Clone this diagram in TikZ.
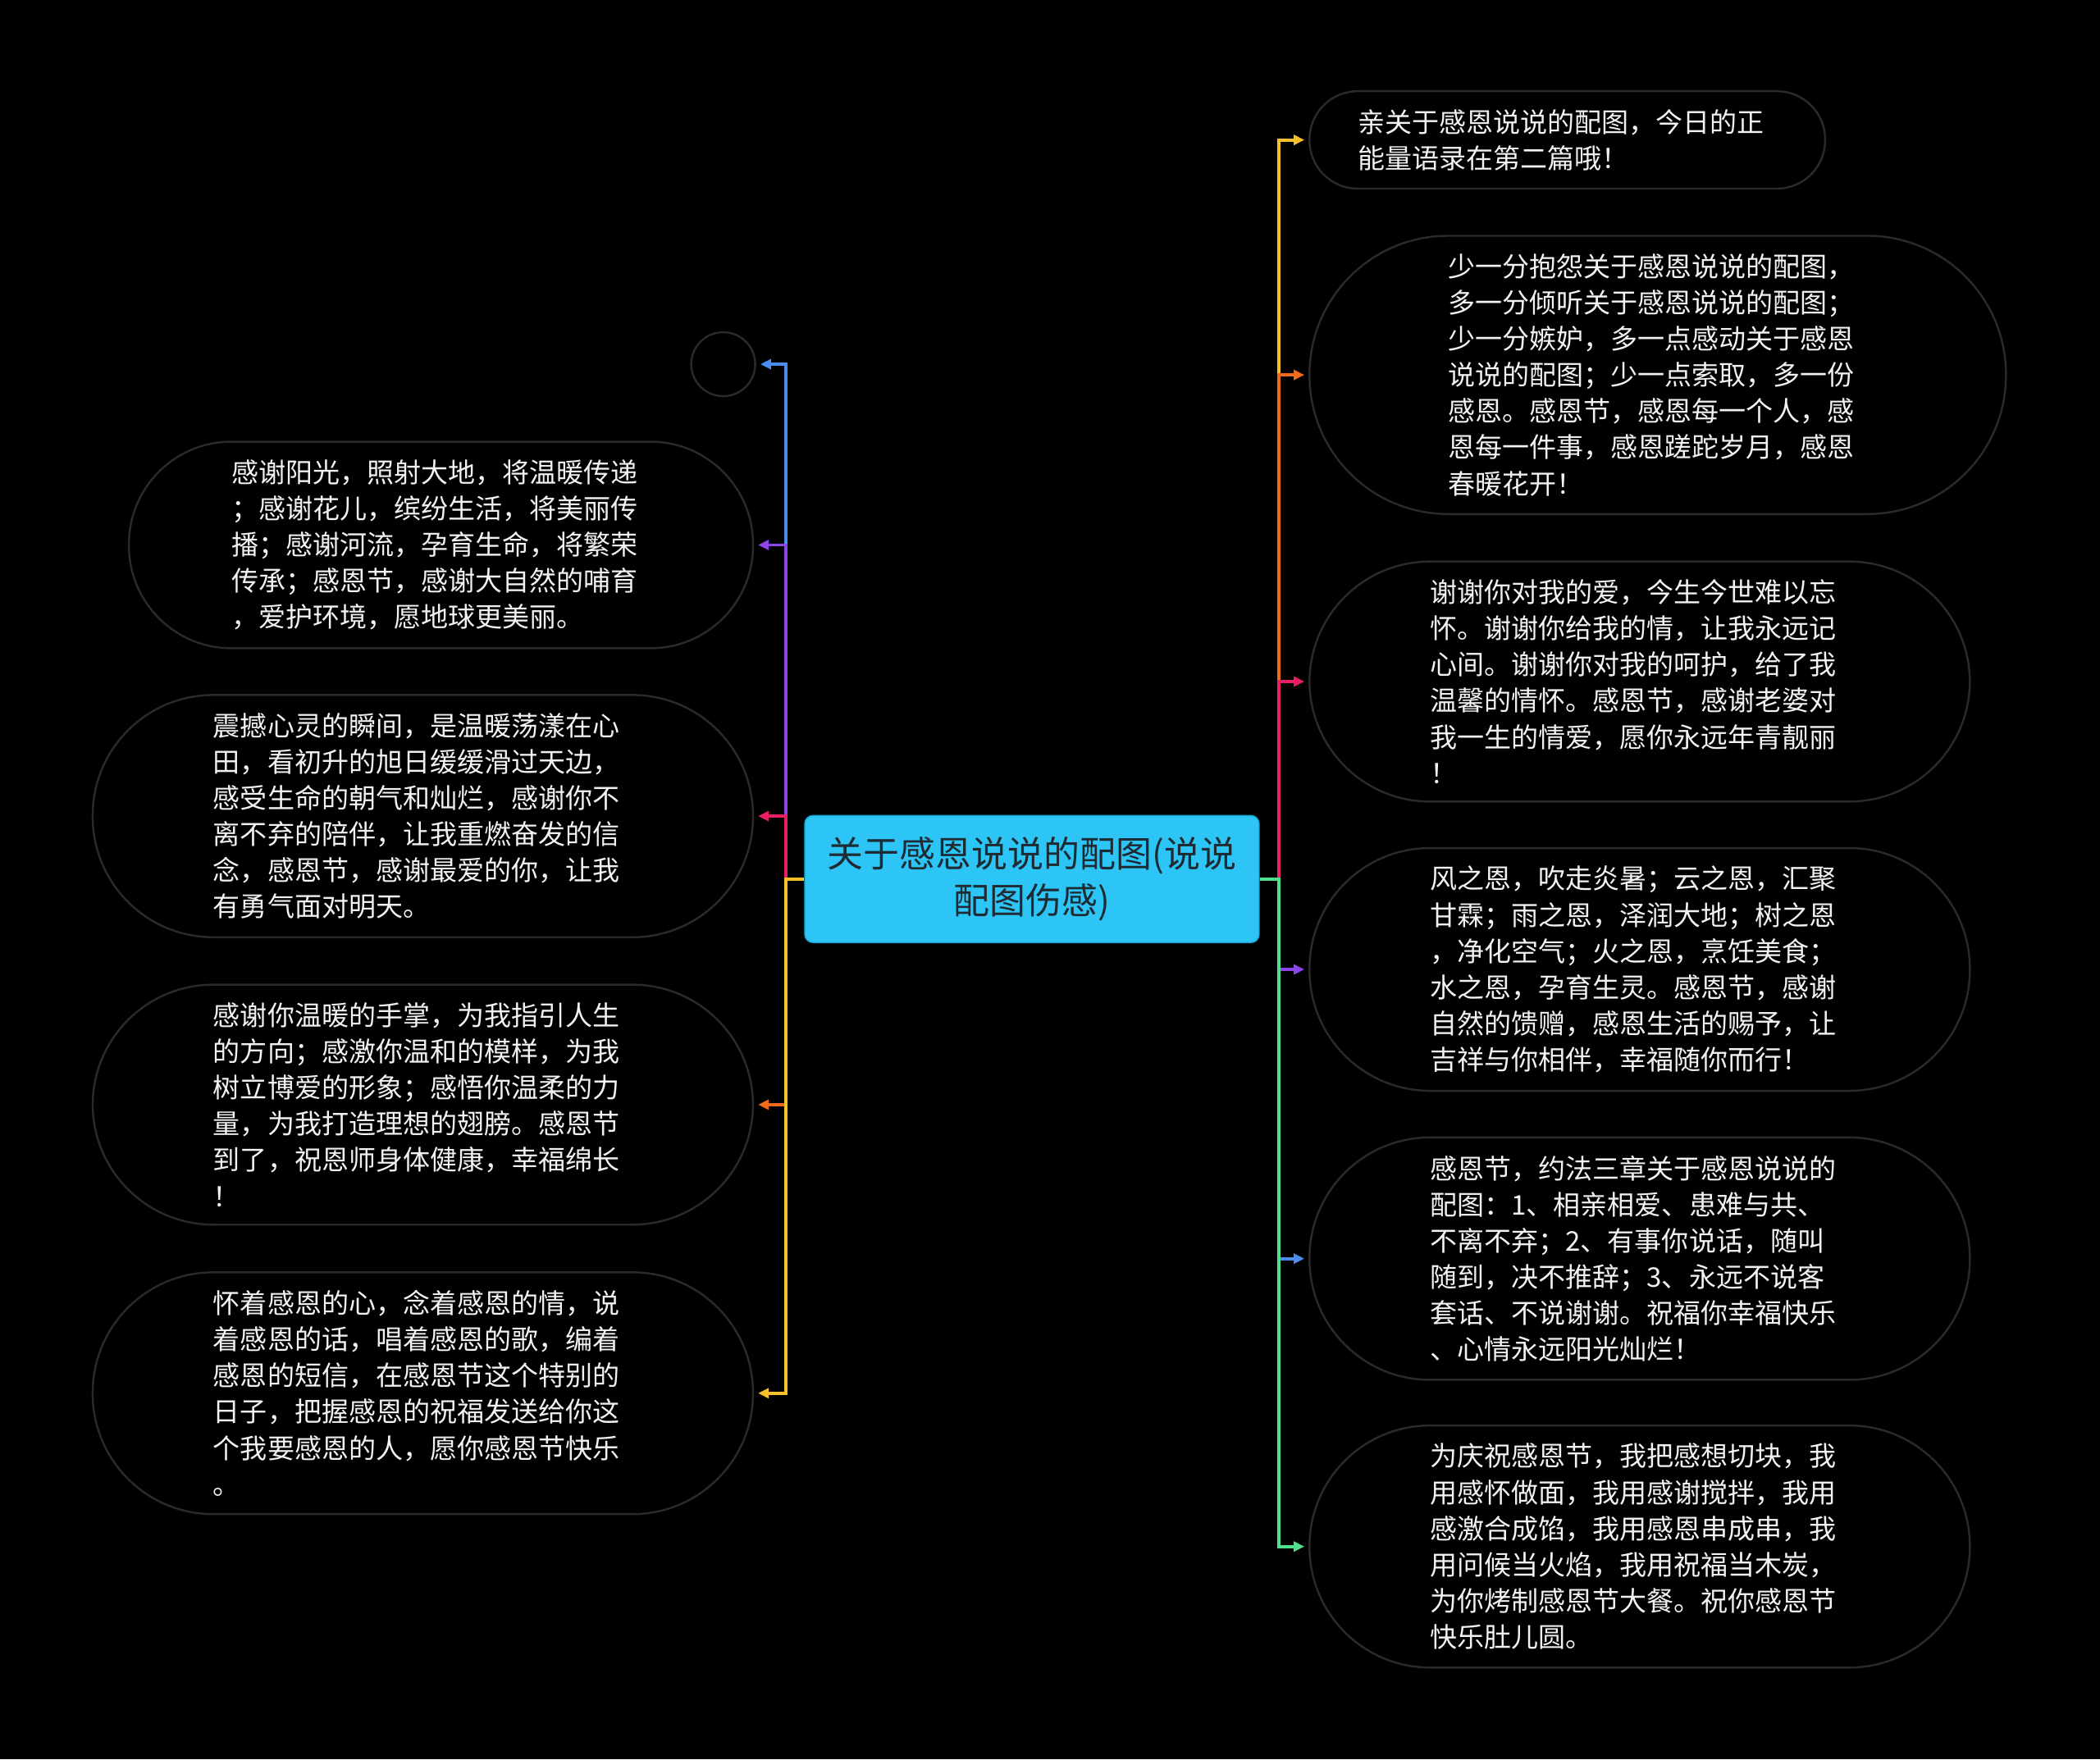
\documentclass[tikz,border=0pt]{standalone}
\usepackage{fontspec}
\setmainfont{Noto Sans CJK SC}
\usepackage{tikz}
\usetikzlibrary{arrows.meta, positioning}

\definecolor{bubble}{HTML}{2A2A2A}
\definecolor{leaftext}{HTML}{F2F2F2}
\definecolor{rootfill}{HTML}{2CC5F6}
\definecolor{rootline}{HTML}{1B9FCB}
\definecolor{roottext}{HTML}{1E2B33}
\definecolor{cyellow}{HTML}{F5C02A}
\definecolor{corange}{HTML}{F26B1D}
\definecolor{cpink}{HTML}{E91E63}
\definecolor{cpurple}{HTML}{8E44E8}
\definecolor{cblue}{HTML}{4A8CF0}
\definecolor{cgreen}{HTML}{4EE08A}

\begin{document}
\begin{tikzpicture}[
    x=0.01633cm, y=-0.01633cm,
    root/.style={draw=rootline, fill=rootfill, rounded corners=0.1cm, minimum width=5.54cm, minimum height=1.55cm, align=center, text=roottext, font=\fontsize{12.5}{16.3}\selectfont},
    leaf/.style={draw=bubble, line width=0.7pt, rectangle, rounded corners=#1, text width=5.11cm, inner xsep=#1, inner ysep=0.22cm, align=left, text=leaftext, font=\fontsize{9.4}{12.55}\selectfont},
    dot/.style={draw=bubble, line width=0.7pt, circle, minimum size=0.78cm, inner sep=0pt},
    link/.style={line width=1.1pt, -{Triangle[length=0.13cm, width=0.12cm]}, shorten >=0.05cm}
  ]
    \fill[black] (0,0) rectangle (1568,1314);
    \useasboundingbox (0,0) rectangle (1568,1314);

    \node[root] (root) at (770.5,656.5) {关于感恩说说的配图(说说\\配图伤感)};

    \node[leaf=0.588cm, anchor=west] (r1) at (977,104.5) {亲关于感恩说说的配图，今日的正\\能量语录在第二篇哦！};
    \node[leaf=1.69cm, anchor=west] (r2) at (977,280) {少一分抱怨关于感恩说说的配图，\\多一分倾听关于感恩说说的配图；\\少一分嫉妒，多一点感动关于感恩\\说说的配图；少一点索取，多一份\\感恩。感恩节，感恩每一个人，感\\恩每一件事，感恩蹉跎岁月，感恩\\春暖花开！};
    \node[leaf=1.47cm, anchor=west] (r3) at (977,509) {谢谢你对我的爱，今生今世难以忘\\怀。谢谢你给我的情，让我永远记\\心间。谢谢你对我的呵护，给了我\\温馨的情怀。感恩节，感谢老婆对\\我一生的情爱，愿你永远年青靓丽\\！};
    \node[leaf=1.47cm, anchor=west] (r4) at (977,724) {风之恩，吹走炎暑；云之恩，汇聚\\甘霖；雨之恩，泽润大地；树之恩\\，净化空气；火之恩，烹饪美食；\\水之恩，孕育生灵。感恩节，感谢\\自然的馈赠，感恩生活的赐予，让\\吉祥与你相伴，幸福随你而行！};
    \node[leaf=1.47cm, anchor=west] (r5) at (977,940) {感恩节，约法三章关于感恩说说的\\配图：1、相亲相爱、患难与共、\\不离不弃；2、有事你说话，随叫\\随到，决不推辞；3、永远不说客\\套话、不说谢谢。祝福你幸福快乐\\、心情永远阳光灿烂！};
    \node[leaf=1.47cm, anchor=west] (r6) at (977,1155) {为庆祝感恩节，我把感想切块，我\\用感怀做面，我用感谢搅拌，我用\\感激合成馅，我用感恩串成串，我\\用问候当火焰，我用祝福当木炭，\\为你烤制感恩节大餐。祝你感恩节\\快乐肚儿圆。};

    \node[dot] (l0) at (540,272) {};
    \node[leaf=1.249cm, anchor=east] (l1) at (563,407) {感谢阳光，照射大地，将温暖传递\\；感谢花儿，缤纷生活，将美丽传\\播；感谢河流，孕育生命，将繁荣\\传承；感恩节，感谢大自然的哺育\\，爱护环境，愿地球更美丽。};
    \node[leaf=1.47cm, anchor=east] (l2) at (563,609.5) {震撼心灵的瞬间，是温暖荡漾在心\\田，看初升的旭日缓缓滑过天边，\\感受生命的朝气和灿烂，感谢你不\\离不弃的陪伴，让我重燃奋发的信\\念，感恩节，感谢最爱的你，让我\\有勇气面对明天。};
    \node[leaf=1.47cm, anchor=east] (l3) at (563,825) {感谢你温暖的手掌，为我指引人生\\的方向；感激你温和的模样，为我\\树立博爱的形象；感悟你温柔的力\\量，为我打造理想的翅膀。感恩节\\到了，祝恩师身体健康，幸福绵长\\！};
    \node[leaf=1.47cm, anchor=east] (l4) at (563,1040.5) {怀着感恩的心，念着感恩的情，说\\着感恩的话，唱着感恩的歌，编着\\感恩的短信，在感恩节这个特别的\\日子，把握感恩的祝福发送给你这\\个我要感恩的人，愿你感恩节快乐\\。};

    \coordinate (rj) at (955,656.5);
    \coordinate (lj) at (587,656.5);

    \draw[link, cyellow] (root.east) -- (rj) |- (r1.west);
    \draw[link, corange] (root.east) -- (rj) |- (r2.west);
    \draw[link, cpink] (root.east) -- (rj) |- (r3.west);
    \draw[link, cpurple] (root.east) -- (rj) |- (r4.west);
    \draw[link, cblue] (root.east) -- (rj) |- (r5.west);
    \draw[link, cgreen] (root.east) -- (rj) |- (r6.west);

    \draw[link, cblue] (root.west) -- (lj) |- (l0.east);
    \draw[link, cpurple] (root.west) -- (lj) |- (l1.east);
    \draw[link, cpink] (root.west) -- (lj) |- (l2.east);
    \draw[link, corange] (root.west) -- (lj) |- (l3.east);
    \draw[link, cyellow] (root.west) -- (lj) |- (l4.east);
  \end{tikzpicture}
\end{document}
